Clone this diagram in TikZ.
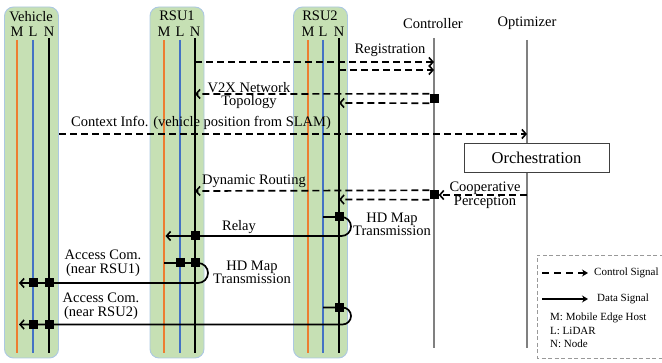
\documentclass[tikz,border=0pt]{standalone}
\usepackage{fontspec}
\setmainfont{Liberation Serif}
\usetikzlibrary{arrows.meta}
\definecolor{boxfill}{RGB}{198,224,180}
\definecolor{boxedge}{RGB}{172,200,226}
\definecolor{laneM}{RGB}{237,125,49}
\definecolor{laneL}{RGB}{68,114,196}
\definecolor{lifegray}{RGB}{128,128,128}
\begin{document}
\begin{tikzpicture}[x=1pt,y=-1pt,
  grp/.style={draw=boxedge, fill=boxfill, rounded corners=9pt, line width=0.9pt},
  laneMs/.style={draw=laneM, line width=1.6pt},
  laneLs/.style={draw=laneL, line width=1.5pt},
  laneNs/.style={draw=black, line width=1.8pt},
  life/.style={draw=lifegray, line width=1.2pt},
  tip/.style={-{Straight Barb[length=4pt,width=9pt,line width=1.6pt]}},
  ctl/.style={line width=1.7pt, dash pattern=on 7pt off 4pt, tip},
  dat/.style={line width=1.7pt, tip},
  sq/.style={fill=black, draw=none, minimum size=9pt, inner sep=0pt},
  lbl/.style={font=\fontsize{14.5}{14.5}\selectfont, align=center, inner sep=0pt},
  hdr/.style={font=\fontsize{14.5}{14.5}\selectfont, inner sep=0pt},
  leg/.style={font=\fontsize{11}{11}\selectfont, inner sep=0pt, anchor=west}]
\useasboundingbox (0,0) rectangle (662,363);
% ---- group boxes
\node[grp, minimum width=54pt, minimum height=351pt, inner sep=0pt] (vehbox) at (31.5,182.5) {};
\node[grp, minimum width=54pt, minimum height=351pt, inner sep=0pt] (rsu1box) at (177,182.5) {};
\node[grp, minimum width=54pt, minimum height=351pt, inner sep=0pt] (rsu2box) at (320.5,182.5) {};
% ---- headers
\node[hdr] (vehT) at (31,17) {Vehicle};
\node[hdr] (rsu1T) at (177,16) {RSU1};
\node[hdr] (rsu2T) at (320,16) {RSU2};
% vehicle lanes
\node[hdr] (vMt) at (17,32) {M};
\node[hdr] (vLt) at (33,32) {L};
\node[hdr] (vNt) at (49,32) {N};
\coordinate (vMtop) at (17,40); \coordinate (vMbot) at (17,353);
\coordinate (vLtop) at (33,40); \coordinate (vLbot) at (33,353);
\coordinate (vNtop) at (49,38); \coordinate (vNbot) at (49,353);
\draw[laneMs] (vMtop) -- (vMbot);
\draw[laneLs] (vLtop) -- (vLbot);
\draw[laneNs] (vNtop) -- (vNbot);
% RSU1 lanes
\node[hdr] (aMt) at (164,32) {M};
\node[hdr] (aLt) at (180,32) {L};
\node[hdr] (aNt) at (195,32) {N};
\coordinate (aMtop) at (164,40); \coordinate (aMbot) at (164,353);
\coordinate (aLtop) at (180,40); \coordinate (aLbot) at (180,353);
\coordinate (aNtop) at (195,38); \coordinate (aNbot) at (195,353);
\draw[laneMs] (aMtop) -- (aMbot);
\draw[laneLs] (aLtop) -- (aLbot);
\draw[laneNs] (aNtop) -- (aNbot);
% RSU2 lanes
\node[hdr] (bMt) at (308,32) {M};
\node[hdr] (bLt) at (323,32) {L};
\node[hdr] (bNt) at (339,32) {N};
\coordinate (bMtop) at (308,40); \coordinate (bMbot) at (308,353);
\coordinate (bLtop) at (323,40); \coordinate (bLbot) at (323,353);
\coordinate (bNtop) at (339,38); \coordinate (bNbot) at (339,353);
\draw[laneMs] (bMtop) -- (bMbot);
\draw[laneLs] (bLtop) -- (bLbot);
\draw[laneNs] (bNtop) -- (bNbot);
% ---- controller / optimizer
\node[hdr] (ctlT) at (433,24) {Controller};
\node[hdr] (optT) at (527,23) {Optimizer};
\coordinate (ctlTop) at (434,38); \coordinate (ctlBot) at (434,348);
\coordinate (optTop) at (527,40); \coordinate (optBot) at (527,348);
\draw[life] (ctlTop) -- (ctlBot);
\draw[life, line width=2pt] (optTop) -- (optBot);
% ---- orchestration
\node[draw=black!75, fill=white, line width=0.9pt, minimum width=145pt, minimum height=29pt,
      inner sep=0pt, font=\fontsize{16.5}{16.5}\selectfont] (orch) at (536.5,157.5) {Orchestration};
% ---- registration
\coordinate (reg1s) at (195,62);  \coordinate (reg1e) at (434,62);
\coordinate (reg2s) at (339,70);  \coordinate (reg2e) at (434,70);
\draw[ctl] (reg1s) -- (reg1e);
\draw[ctl] (reg2s) -- (reg2e);
\node[lbl] (regL) at (390,50) {Registration};
% ---- V2X network topology
\node[sq] (sqA) at (434,98.5) {};
\coordinate (topo1) at (195,94); \coordinate (topo2) at (339,103);
\draw[ctl] (sqA.north west) -- (topo1);
\draw[ctl] (sqA.south west) -- (topo2);
\node[lbl] (topoL) at (249,95.5) {V2X Network\\[-1.5pt]Topology};
% ---- context info
\coordinate (ctxs) at (59,134); \coordinate (ctxe) at (527,134);
\draw[ctl] (ctxs) -- (ctxe);
\node[lbl] (ctxL) at (201,123) {Context Info. (vehicle position from SLAM)};
% ---- cooperative perception / dynamic routing
\node[sq] (sqB) at (434,195) {};
\coordinate (coops) at (527,195);
\draw[ctl] (coops) -- (sqB.east);
\node[lbl] (coopL) at (485,195) {Cooperative\\[-1pt]Perception};
\coordinate (dyn1) at (195,191); \coordinate (dyn2) at (339,199.5);
\draw[ctl] (sqB.north west) -- (dyn1);
\draw[ctl] (sqB.south west) -- (dyn2);
\node[lbl] (dynL) at (254,181) {Dynamic Routing};
% ---- HD map transmission RSU2 -> RSU1 (relay)
\coordinate (hdAs) at (323,217);
\node[sq] (hdA1) at (339,217) {};
\node[sq] (relay1) at (195,236) {};
\coordinate (relayE) at (165.5,236);
\draw[dat] (hdAs) -- (hdA1.center) -- ++(2.5,0) arc[start angle=-90, end angle=90, radius=9.5] -- (relay1.center) -- (relayE);
\node[sq] at (hdA1) {};
\node[sq] at (relay1) {};
\node[lbl] (hdAL) at (392,224.5) {HD Map\\[-1.5pt]Transmission};
\node[lbl] (relayL) at (239,227) {Relay};
% ---- access com near RSU1
\coordinate (acAs) at (164,263);
\node[sq] (acA1) at (180,263) {};
\node[sq] (acA2) at (195,263) {};
\node[sq] (acA3) at (49,283) {};
\node[sq] (acA4) at (33,283) {};
\coordinate (acAe) at (19,283);
\draw[dat] (acAs) -- (acA1.center) -- (acA2.center) -- ++(3,0) arc[start angle=-90, end angle=90, radius=10] -- (acA3.center) -- (acA4.center) -- (acAe);
\foreach \s in {acA1,acA2,acA3,acA4} \node[sq] at (\s) {};
\node[lbl] (acAL) at (103,263) {Access Com.\\[-1pt](near RSU1)};
\node[lbl] (hdBL) at (252,272.5) {HD Map\\[-1.5pt]Transmission};
% ---- access com near RSU2
\coordinate (acBs) at (323,307.5);
\node[sq] (acB1) at (339,307.5) {};
\node[sq] (acB2) at (49,324.5) {};
\node[sq] (acB3) at (33,324.5) {};
\coordinate (acBe) at (19,324.5);
\draw[dat] (acBs) -- (acB1.center) -- ++(3.5,0) arc[start angle=-90, end angle=90, radius=8.5] -- (acB2.center) -- (acB3.center) -- (acBe);
\foreach \s in {acB1,acB2,acB3} \node[sq] at (\s) {};
\node[lbl] (acBL) at (101,306) {Access Com.\\[-1pt](near RSU2)};
% ---- legend
\draw[draw=lifegray!80, line width=0.8pt, dash pattern=on 4pt off 2.5pt] (670,255) -| (537,358) -- (670,358);
\coordinate (lc1) at (542,273); \coordinate (lc2) at (588,273);
\coordinate (ld1) at (542,299); \coordinate (ld2) at (588,299);
\draw[line width=1.7pt, dash pattern=on 7pt off 5pt, -{Stealth[length=6pt,width=7pt]}] (lc1) -- (lc2);
\draw[line width=1.7pt, -{Stealth[length=6pt,width=7pt]}] (ld1) -- (ld2);
\node[leg] (legC) at (594,273) {Control Signal};
\node[leg] (legD) at (597,299) {Data Signal};
\node[leg] (legM) at (550,318) {M: Mobile Edge Host};
\node[leg] (legL) at (550,331) {L: LiDAR};
\node[leg] (legN) at (550,344) {N: Node};
\end{tikzpicture}
\end{document}
